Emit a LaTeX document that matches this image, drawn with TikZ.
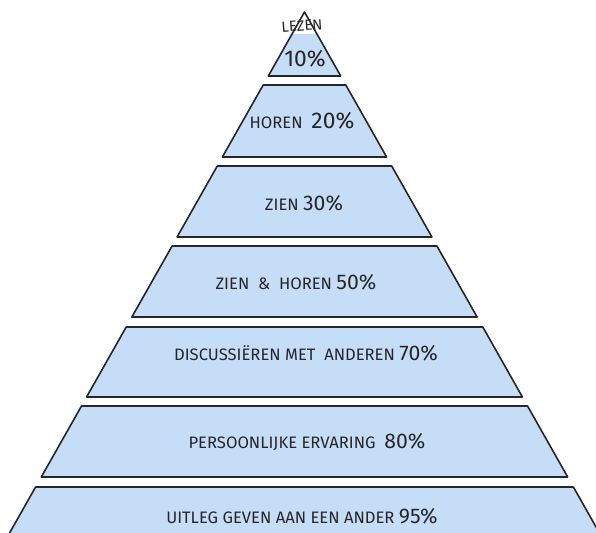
\documentclass[tikz,border=0pt]{standalone}
\usepackage{fontspec}
\setmainfont{Fira Sans}
\definecolor{tierblue}{RGB}{198,221,248}
\definecolor{inkgray}{RGB}{38,38,38}
\newcommand{\pcnt}[1]{{\fontsize{10.6}{12}\selectfont #1\%}}

\begin{document}
\begin{tikzpicture}[x=0.5pt,y=-0.5pt,
    tier/.style={fill=tierblue, draw=inkgray, line width=0.8pt, line join=round},
    lbl/.style={text=inkgray, font=\fontsize{8.3}{9}\selectfont, inner sep=0pt}]
  \useasboundingbox (0,0) rectangle (596,533);
  \clip (0,0) rectangle (596,533);
  \fill [tierblue] (291.9,34) -- (317.1,34) -- (340.7,76) -- (268.3,76) -- cycle;
  \draw [tier, fill=none] (304.5,12) -- (340.7,76) -- (268.3,76) -- cycle;
  \filldraw [tier] (263.2,85) -- (345.8,85) -- (386.6,157) -- (222.4,157) -- cycle;
  \filldraw [tier] (217.3,166) -- (391.7,166) -- (431.9,237) -- (177.1,237) -- cycle;
  \filldraw [tier] (172.1,246) -- (436.9,246) -- (477.1,317) -- (131.9,317) -- cycle;
  \filldraw [tier] (126.2,327) -- (482.8,327) -- (522.4,397) -- (86.6,397) -- cycle;
  \filldraw [tier] (81.5,406) -- (527.5,406) -- (567.7,477) -- (41.3,477) -- cycle;
  \filldraw [tier] (35.6,487) -- (573.4,487) -- (614.7,560) -- (-5.7,560) -- cycle;
  \node [lbl, rotate=4, font=\fontsize{7.4}{8}\selectfont] (lezen) at (302,26) {LEZEN};
  \node [lbl] (p10) at (305,59) {{\fontsize{11.4}{12}\selectfont 10\%}};
  \node [lbl] (horen) at (302,121) {HOREN\ \ {\fontsize{11.4}{12}\selectfont 20\%}};
  \node [lbl] (zien) at (304,203) {ZIEN \pcnt{30}};
  \node [lbl] (zienhoren) at (296,282) {ZIEN\ \ \&\ \ HOREN \pcnt{50}};
  \node [lbl] (discussie) at (306,353) {DISCUSSIËREN MET\ \ ANDEREN \pcnt{70}};
  \node [lbl] (ervaring) at (307,442) {PERSOONLIJKE ERVARING\ \ \pcnt{80}};
  \node [lbl] (uitleg) at (302,516) {UITLEG GEVEN AAN EEN ANDER \pcnt{95}};
\end{tikzpicture}
\end{document}
